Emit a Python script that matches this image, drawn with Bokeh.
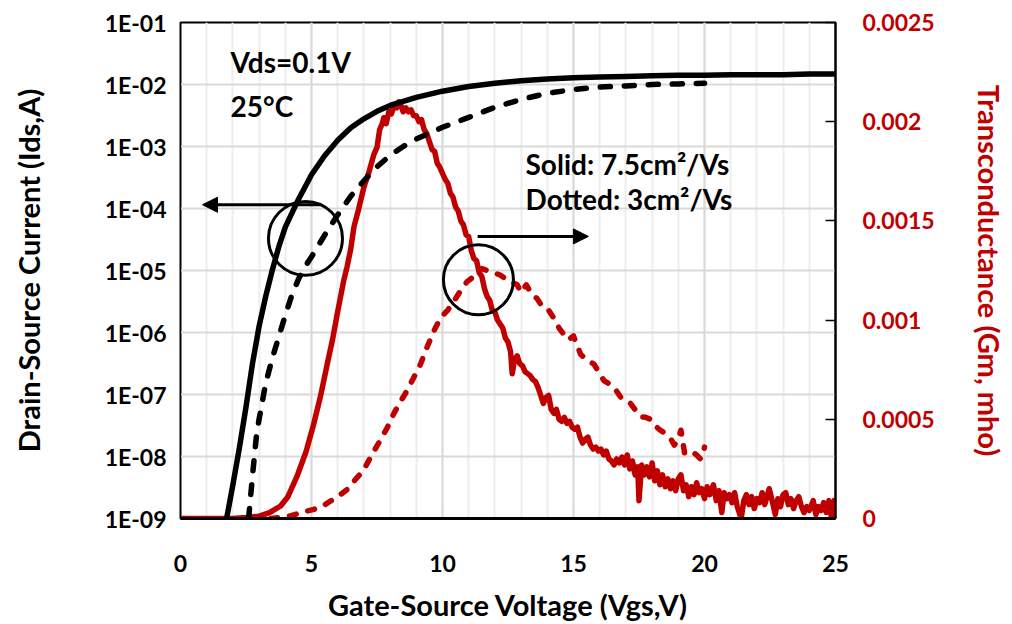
from bokeh.plotting import figure
from bokeh.models import (Range1d, LinearAxis, LinearScale, FixedTicker, SingleIntervalTicker,
                          CustomJSTickFormatter, Arrow, NormalHead, Label)
from bokeh.embed import file_html
from bokeh.resources import INLINE

# ---------------- data ----------------
# Drain current, mobility 7.5 cm2/Vs (solid)
vgs_ids_hi = [1.76, 2.0, 2.25, 2.5, 2.75, 3.0, 3.25, 3.5, 3.75, 4.0, 4.5, 5.0, 5.5, 6.0,
              6.5, 7.0, 7.5, 8.0, 9.0, 10, 11, 12, 13, 14, 15, 16, 17, 18, 19, 20,
              21, 22, 23, 24, 25]
ids_hi = [1.0e-9, 3.5e-9, 1.4e-8, 6.3e-8, 3.2e-7, 1.26e-6, 3.8e-6, 1.0e-5, 2.4e-5, 5.0e-5,
          1.4e-4, 3.5e-4, 7.1e-4, 1.26e-3, 2.0e-3, 2.8e-3, 3.7e-3, 4.6e-3, 6.2e-3, 7.8e-3,
          9.3e-3, 1.05e-2, 1.15e-2, 1.23e-2, 1.29e-2, 1.32e-2, 1.35e-2, 1.38e-2, 1.41e-2,
          1.41e-2, 1.44e-2, 1.44e-2, 1.44e-2, 1.48e-2, 1.48e-2]

# Drain current, mobility 3 cm2/Vs (dashed)
vgs_ids_lo = [2.6, 2.75, 2.9, 3.0, 3.25, 3.5, 3.75, 4.0, 4.25, 4.5, 4.75, 5.0, 5.5, 6.0,
              6.5, 7.0, 7.5, 8.0, 8.5, 9.0, 10, 11, 12, 13, 14, 15, 16, 17, 18, 19, 20]
ids_lo = [1.0e-9, 5.0e-9, 2.2e-8, 4.0e-8, 1.5e-7, 3.8e-7, 8.5e-7, 1.9e-6, 4.0e-6, 7.2e-6,
          1.15e-5, 1.66e-5, 3.7e-5, 7.9e-5, 1.58e-4, 2.8e-4, 4.7e-4, 7.2e-4, 1.0e-3,
          1.32e-3, 2.04e-3, 2.95e-3, 4.3e-3, 5.75e-3, 7.2e-3, 8.3e-3, 9.1e-3, 9.5e-3,
          1.0e-2, 1.02e-2, 1.05e-2]

# Transconductance, mobility 7.5 cm2/Vs (solid), in mS
vgs_gm_hi = [
    0.0, 0.5, 1.0, 1.5, 2.0, 2.5, 3.0, 3.4, 3.82, 4.1, 4.45, 4.8, 5.09, 5.35, 5.6,
    5.8, 5.98, 6.23, 6.36, 6.5, 6.62, 6.8, 7.0, 7.2, 7.38, 7.5, 7.6, 7.7, 7.76, 7.85,
    7.95, 8.05, 8.15, 8.25, 8.33, 8.42, 8.5, 8.6, 8.7, 8.8, 8.9,
    9.0, 9.1, 9.2, 9.3, 9.4, 9.5, 9.6, 9.7, 9.8, 9.9,
    10.0, 10.1, 10.2, 10.3, 10.4, 10.5, 10.6, 10.7, 10.8, 10.9,
    11.0, 11.1, 11.2, 11.3, 11.4, 11.5, 11.6, 11.7, 11.8, 11.9,
    12.0, 12.1, 12.2, 12.3, 12.4, 12.5, 12.6, 12.66, 12.75, 12.85, 12.95,
    13.05, 13.15, 13.25, 13.35, 13.45, 13.55, 13.65, 13.75, 13.85, 13.95,
    14.05, 14.15, 14.25, 14.35, 14.45, 14.55, 14.65, 14.75, 14.85, 14.95,
    15.05, 15.15, 15.25, 15.35, 15.45, 15.55, 15.65, 15.75, 15.85, 15.95,
    16.05, 16.15, 16.25, 16.35, 16.45, 16.55, 16.65, 16.75, 16.85, 16.95,
    17.05, 17.15, 17.25, 17.35, 17.45, 17.5, 17.6, 17.7, 17.8, 17.9,
    18.0, 18.1, 18.2, 18.3, 18.4, 18.5, 18.6, 18.7, 18.8, 18.9,
    19.0, 19.1, 19.2, 19.3, 19.4, 19.5, 19.6, 19.7, 19.8, 19.9,
    20.0, 20.1, 20.2, 20.34, 20.45, 20.55, 20.66, 20.75, 20.85, 20.95,
    21.05, 21.15, 21.25, 21.4, 21.5, 21.6, 21.7, 21.8, 21.9,
    22.0, 22.1, 22.2, 22.3, 22.47, 22.6, 22.7, 22.8, 22.9,
    23.0, 23.1, 23.2, 23.3, 23.4, 23.5, 23.6, 23.7, 23.8, 23.9,
    24.0, 24.15, 24.25, 24.35, 24.45, 24.55, 24.65, 24.75, 24.85, 24.95, 25.0]
gm_hi_ms = [
    0.0, 0.0, 0.0, 0.0, 0.0, 0.005, 0.012, 0.03, 0.063, 0.11, 0.213, 0.34, 0.479, 0.62, 0.778,
    0.90, 1.03, 1.20, 1.27, 1.36, 1.47, 1.56, 1.67, 1.75, 1.835, 1.87, 1.96, 1.99, 2.02, 1.99,
    2.05, 2.04, 2.08, 2.07, 2.10, 2.08, 2.05, 2.07, 2.05, 2.06, 2.03,
    2.03, 2.00, 2.01, 1.96, 1.94, 1.90, 1.86, 1.85, 1.79, 1.77,
    1.74, 1.71, 1.69, 1.64, 1.62, 1.57, 1.55, 1.50, 1.48, 1.43,
    1.42, 1.35, 1.31, 1.30, 1.24, 1.22, 1.16, 1.12, 1.10, 1.05,
    1.04, 1.00, 0.98, 0.96, 0.91, 0.89, 0.84, 0.73, 0.80, 0.82, 0.78,
    0.77, 0.74, 0.73, 0.72, 0.70, 0.69, 0.66, 0.62, 0.58, 0.61,
    0.62, 0.55, 0.53, 0.55, 0.50, 0.49, 0.51, 0.48, 0.49, 0.46,
    0.45, 0.46, 0.41, 0.38, 0.40, 0.41, 0.37, 0.35, 0.36, 0.34,
    0.35, 0.32, 0.34, 0.30, 0.29, 0.27, 0.30, 0.28, 0.31, 0.27,
    0.32, 0.25, 0.29, 0.22, 0.26, 0.09, 0.27, 0.22, 0.26, 0.21,
    0.28, 0.19, 0.24, 0.17, 0.22, 0.16, 0.20, 0.15, 0.19, 0.14,
    0.20, 0.22, 0.14, 0.17, 0.11, 0.16, 0.12, 0.18, 0.13, 0.15,
    0.10, 0.16, 0.12, 0.17, 0.09, 0.14, 0.03, 0.13, 0.10, 0.12,
    0.08, 0.13, 0.06, 0.00, 0.09, 0.12, 0.07, 0.11, 0.05,
    0.10, 0.08, 0.13, 0.07, 0.15, 0.08, 0.02, 0.10, 0.06,
    0.12, 0.13, 0.07, 0.10, 0.05, 0.09, 0.11, 0.06, 0.03, 0.06,
    0.04, 0.09, 0.02, 0.06, 0.04, 0.08, 0.03, 0.09, 0.00, 0.09, 0.06]

# Transconductance, mobility 3 cm2/Vs (dashed), in mS
vgs_gm_lo = [3.44, 3.8, 4.2, 4.6, 5.09, 5.4, 5.73, 6.0, 6.36, 6.7, 7.0, 7.3, 7.63, 7.9,
             8.14, 8.4, 8.65, 8.9, 9.16, 9.4, 9.67, 9.92, 10.2, 10.43, 10.7, 10.94, 11.1,
             11.32, 11.5, 11.7, 11.95, 12.2, 12.5, 12.85, 13.0, 13.2, 13.4, 13.6, 13.8,
             14.0, 14.25, 14.45, 14.63, 14.8, 15.0, 15.27, 15.5, 15.78, 16.0, 16.16, 16.35,
             16.54, 16.8, 17.0, 17.18, 17.4, 17.56, 17.75, 17.94, 18.1, 18.3, 18.5, 18.7,
             18.85, 19.0, 19.1, 19.24, 19.5, 19.7, 19.85, 19.95, 20.0]
gm_lo_ms = [0.0, 0.005, 0.013, 0.03, 0.046, 0.06, 0.088, 0.11, 0.146,
            0.20, 0.246, 0.32, 0.396, 0.46, 0.529, 0.59, 0.645,
            0.71, 0.778, 0.86, 0.945, 1.01, 1.05, 1.094, 1.15,
            1.194, 1.21, 1.244, 1.26, 1.25, 1.24, 1.227, 1.20,
            1.178, 1.14, 1.178, 1.13, 1.11, 1.07, 1.06, 1.01,
            0.96, 0.928, 0.90, 0.92, 0.828, 0.80, 0.778, 0.73,
            0.695, 0.68, 0.662, 0.612, 0.60, 0.579, 0.54, 0.512,
            0.51, 0.50, 0.47, 0.446, 0.43, 0.405, 0.37, 0.40,
            0.445, 0.33, 0.34, 0.32, 0.30, 0.33, 0.36]

gm_hi = [g / 1000 for g in gm_hi_ms]
gm_lo = [g / 1000 for g in gm_lo_ms]

ids_ticks = [1e-9, 1e-8, 1e-7, 1e-6, 1e-5, 1e-4, 1e-3, 1e-2, 1e-1]
ids_tick_labels = ["1E-09", "1E-08", "1E-07", "1E-06", "1E-05", "1E-04", "1E-03",
                   "1E-02", "1E-01"]
gm_ticks = [0.0, 0.0005, 0.001, 0.0015, 0.002, 0.0025]
gm_tick_labels = ["0", "0.0005", "0.001", "0.0015", "0.002", "0.0025"]
vgs_ticks = [0, 5, 10, 15, 20, 25]

# ---------------- styling ----------------
FONT = "Lato"
RED = "#C00000"
GRID = "#d9d9d9"
MINOR_GRID = "#ededed"
LW = 5.5

p = figure(width=1012, height=624, y_axis_type="log",
           x_range=Range1d(0, 25), y_range=Range1d(1e-9, 1e-1),
           output_backend="svg", toolbar_location=None,
           min_border_left=180, min_border_right=177,
           min_border_top=22, min_border_bottom=104)
p.background_fill_color = "white"
p.border_fill_color = "white"
p.outline_line_color = "black"
p.outline_line_width = 2

# gridlines: every volt (light), every 5 V and every decade (darker)
p.xgrid.ticker = SingleIntervalTicker(interval=5, num_minor_ticks=5)
p.xgrid.grid_line_color = GRID
p.xgrid.grid_line_width = 2
p.xgrid.minor_grid_line_color = MINOR_GRID
p.xgrid.minor_grid_line_width = 2
p.ygrid.ticker = FixedTicker(ticks=ids_ticks)
p.ygrid.grid_line_color = GRID
p.ygrid.grid_line_width = 2

# bottom axis
xa = p.xaxis[0]
xa.ticker = FixedTicker(ticks=vgs_ticks)
xa.axis_label = "Gate-Source Voltage (Vgs,V)"
xa.axis_line_color = "black"
xa.axis_line_width = 3
xa.major_tick_line_color = None
xa.minor_tick_line_color = None
xa.major_label_standoff = 30
xa.axis_label_standoff = 12

# left axis
ya = p.yaxis[0]
ya.ticker = FixedTicker(ticks=ids_ticks)
ya.formatter = CustomJSTickFormatter(
    args=dict(labels=ids_tick_labels),
    code="return labels[Math.round(Math.log10(tick)) + 9];")
ya.axis_label = "Drain-Source Current (Ids,A)"
ya.axis_line_color = "black"
ya.major_tick_line_color = None
ya.minor_tick_line_color = None
ya.major_label_standoff = 8
ya.axis_label_standoff = 56

for ax in (xa, ya):
    ax.major_label_text_font = FONT
    ax.major_label_text_font_style = "bold"
    ax.major_label_text_font_size = "23px"
    ax.major_label_text_color = "black"
    ax.axis_label_text_font = FONT
    ax.axis_label_text_font_style = "bold"
    ax.axis_label_text_font_size = "29px"
    ax.axis_label_text_color = "black"

# right axis for transconductance (linear scale next to the log Ids scale)
p.extra_y_ranges = {"gm": Range1d(0, 0.0025)}
p.extra_y_scales = {"gm": LinearScale()}
ga = LinearAxis(y_range_name="gm", ticker=FixedTicker(ticks=gm_ticks),
                formatter=CustomJSTickFormatter(
                    args=dict(labels=gm_tick_labels),
                    code="return labels[Math.round(tick / 0.0005)];"))
ga.axis_label = "Transconductance (Gm, mho)"
ga.axis_line_color = "black"
ga.axis_line_width = 2
ga.major_tick_in = 10
ga.major_tick_out = 0
ga.major_tick_line_color = "black"
ga.major_tick_line_width = 1.5
ga.minor_tick_line_color = None
ga.major_label_standoff = 27
ga.axis_label_standoff = 34
ga.major_label_text_font = FONT
ga.major_label_text_font_style = "bold"
ga.major_label_text_font_size = "23px"
ga.major_label_text_color = RED
ga.axis_label_text_font = FONT
ga.axis_label_text_font_style = "bold"
ga.axis_label_text_font_size = "29px"
ga.axis_label_text_color = RED
p.add_layout(ga, "right")

# ---------------- curves ----------------
p.line(vgs_gm_hi, gm_hi, y_range_name="gm", line_color=RED, line_width=LW,
       line_join="round")
p.line(vgs_gm_lo, gm_lo, y_range_name="gm", line_color=RED, line_width=LW,
       line_dash="7 12", line_cap="round", line_join="round")
p.line(vgs_ids_hi, ids_hi, line_color="black", line_width=LW, line_join="round")
p.line(vgs_ids_lo, ids_lo, line_color="black", line_width=LW,
       line_dash="10 14", line_cap="round", line_join="round")

# ---------------- annotations ----------------
p.scatter(x=[4.77], y=[3.3e-5], marker="circle", size=74,
          fill_color=None, line_color="black", line_width=3)
p.scatter(x=[11.37], y=[7.1e-6], marker="circle", size=70,
          fill_color=None, line_color="black", line_width=3)

p.add_layout(Arrow(end=NormalHead(size=15, fill_color="black", line_color="black"),
                   x_start=5.34, y_start=1.15e-4, x_end=0.84, y_end=1.15e-4,
                   line_color="black", line_width=3))
p.add_layout(Arrow(end=NormalHead(size=15, fill_color="black", line_color="black"),
                   x_start=11.34, y_start=3.55e-5, x_end=15.57, y_end=3.55e-5,
                   line_color="black", line_width=3))

notes = [
    (1.91, 2.296e-2, "Vds=0.1V"),
    (1.91, 4.55e-3, "25°C"),
    (13.17, 5.2e-4, "Solid: 7.5cm²/Vs"),
    (13.17, 1.435e-4, "Dotted: 3cm²/Vs"),
]
for nx, ny, txt in notes:
    p.add_layout(Label(x=nx, y=ny, text=txt, text_font=FONT, text_font_style="bold",
                       text_font_size="28px", text_color="black",
                       text_baseline="alphabetic", text_align="left"))

open("out.html", "w").write(file_html(p, INLINE))
